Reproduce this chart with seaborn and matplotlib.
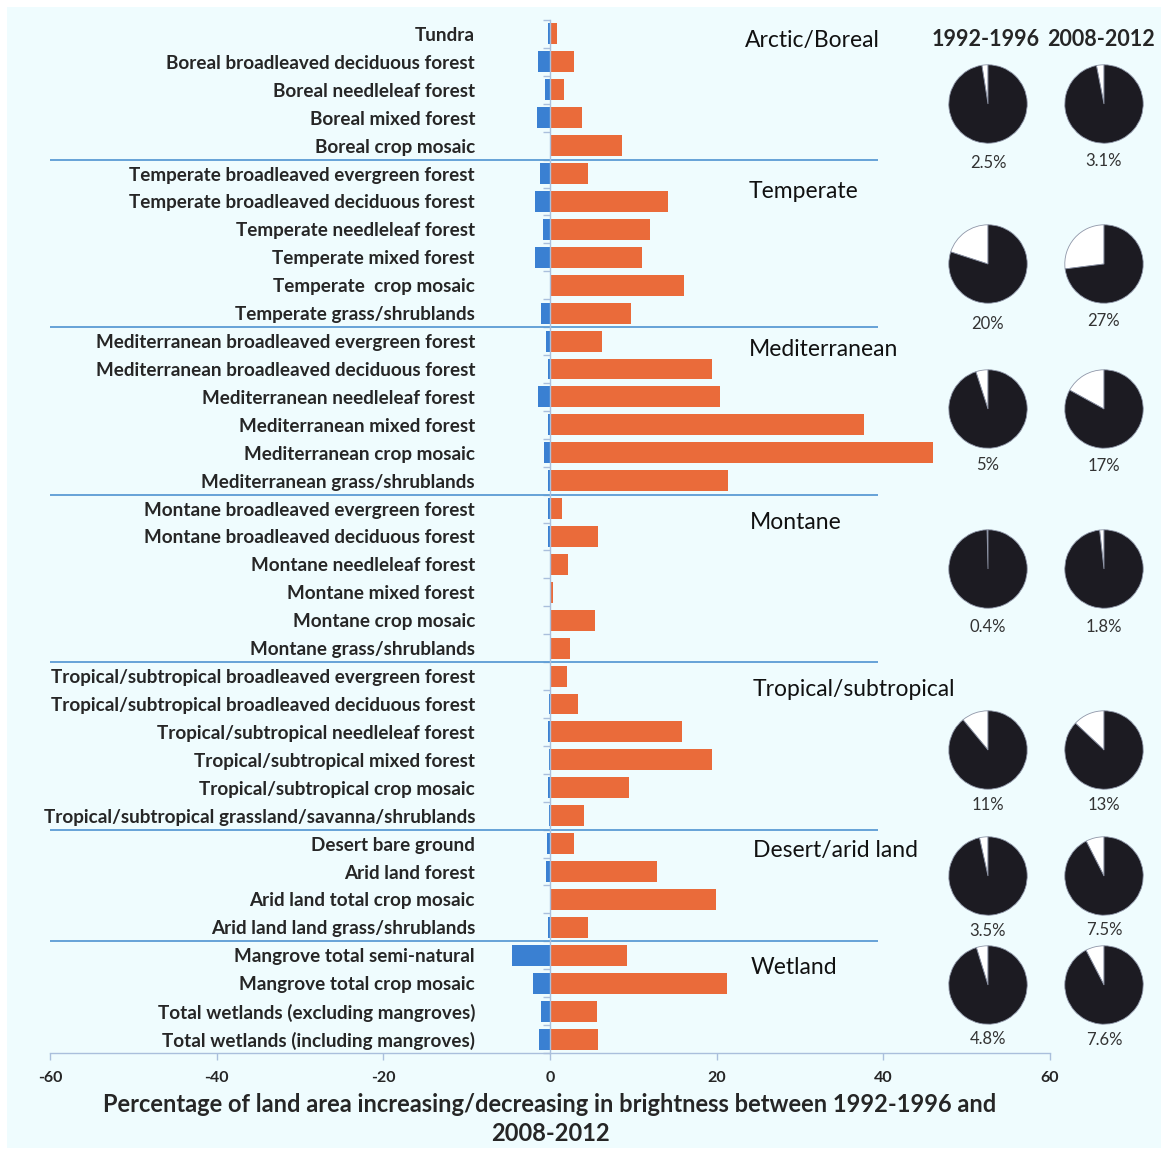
import numpy as np
import pandas as pd
import matplotlib
matplotlib.use("Agg")
import matplotlib.pyplot as plt
import seaborn as sns
from matplotlib.patches import Rectangle

# ---------------- data ----------------
categories = [
    "Tundra", "Boreal broadleaved deciduous forest", "Boreal needleleaf forest",
    "Boreal mixed forest", "Boreal crop mosaic",
    "Temperate broadleaved evergreen forest", "Temperate broadleaved deciduous forest",
    "Temperate needleleaf forest", "Temperate mixed forest", "Temperate  crop mosaic",
    "Temperate grass/shrublands",
    "Mediterranean broadleaved evergreen forest", "Mediterranean broadleaved deciduous forest",
    "Mediterranean needleleaf forest", "Mediterranean mixed forest",
    "Mediterranean crop mosaic", "Mediterranean grass/shrublands",
    "Montane broadleaved evergreen forest", "Montane broadleaved deciduous forest",
    "Montane needleleaf forest", "Montane mixed forest", "Montane crop mosaic",
    "Montane grass/shrublands",
    "Tropical/subtropical broadleaved evergreen forest",
    "Tropical/subtropical broadleaved deciduous forest",
    "Tropical/subtropical needleleaf forest", "Tropical/subtropical mixed forest",
    "Tropical/subtropical crop mosaic",
    "Tropical/subtropical grassland/savanna/shrublands",
    "Desert bare ground", "Arid land forest", "Arid land total crop mosaic",
    "Arid land land grass/shrublands",
    "Mangrove total semi-natural", "Mangrove total crop mosaic",
    "Total wetlands (excluding mangroves)", "Total wetlands (including mangroves)",
]
decrease = [-0.2, -1.5, -0.55, -1.6, 0.0,
            -1.15, -1.75, -0.9, -1.75, 0.0, -1.05,
            -0.45, -0.3, -1.4, -0.3, -0.7, -0.3,
            -0.3, -0.3, 0.0, 0.0, 0.0, 0.0,
            0.0, -0.15, -0.25, -0.15, -0.3, -0.1,
            -0.4, -0.45, 0.0, -0.25,
            -4.6, -2.1, -1.1, -1.3]
increase = [0.8, 2.9, 1.7, 3.8, 8.6,
            4.6, 14.2, 12.0, 11.0, 16.1, 9.7,
            6.2, 19.4, 20.4, 37.7, 45.9, 21.4,
            1.4, 5.8, 2.2, 0.35, 5.4, 2.4,
            2.0, 3.4, 15.8, 19.4, 9.5, 4.1,
            2.9, 12.8, 19.95, 4.6,
            9.2, 21.2, 5.6, 5.8]

groups = ["Arctic/Boreal", "Temperate", "Mediterranean", "Montane",
          "Tropical/subtropical", "Desert/arid land", "Wetland"]
group_sizes = [5, 6, 6, 6, 6, 4, 4]
pie_1992 = [2.5, 20, 5, 0.4, 11, 3.5, 4.8]
pie_2008 = [3.1, 27, 17, 1.8, 13, 7.5, 7.6]
pie_labels_1992 = ["2.5%", "20%", "5%", "0.4%", "11%", "3.5%", "4.8%"]
pie_labels_2008 = ["3.1%", "27%", "17%", "1.8%", "13%", "7.5%", "7.6%"]
period_labels = ["1992-1996", "2008-2012"]

# ---------------- layout (pixels) ----------------
W, H = 1161, 1150
BLUE = "#3a80d2"
ORANGE = "#ea6b3a"
LINE = "#5b9bd5"
AXC = "#aabfdc"
BG = "#effcfe"

sns.set_theme(style="white")
plt.rcParams["font.family"] = ["Lato", "DejaVu Sans"]

fig = plt.figure(figsize=(W / 100, H / 100), dpi=100, facecolor="white")
fig.patches.append(Rectangle((7 / W, 2 / H), 1 - 7 / W, 1 - 9 / H,
                             transform=fig.transFigure, facecolor=BG,
                             edgecolor="none", zorder=-10))

def fx(px):
    return px / W

def fy(py):
    return 1 - py / H

ax = fig.add_axes([fx(50), fy(1053), 1000 / W, (1053 - 20) / H])
ax.set_facecolor("none")

df = pd.DataFrame({"category": categories, "decrease": decrease, "increase": increase})
sns.barplot(data=df, y="category", x="decrease", order=categories, orient="h",
            color=BLUE, saturation=1, width=0.75, linewidth=0, ax=ax)
sns.barplot(data=df, y="category", x="increase", order=categories, orient="h",
            color=ORANGE, saturation=1, width=0.75, linewidth=0, ax=ax)

n = len(categories)
ax.set_xlim(-60, 60)
ax.set_ylim(n - 0.5, -0.5)

# separators between groups
bounds = np.cumsum(group_sizes)[:-1] - 0.5
ax.hlines(bounds, -60, 39.3, color=LINE, lw=1.3, zorder=3)

# spines
for s in ["top", "right"]:
    ax.spines[s].set_visible(False)
ax.spines["left"].set_position(("data", 0))
ax.spines["left"].set_color(AXC)
ax.spines["left"].set_linewidth(1.0)
ax.spines["left"].set_zorder(4)
ax.spines["bottom"].set_color(AXC)
ax.spines["bottom"].set_linewidth(1.0)

ax.set_xticks(np.arange(-60, 61, 20))
ax.set_xticklabels([str(v) for v in range(-60, 61, 20)], fontweight="bold", fontsize=11.5)
ax.tick_params(axis="x", direction="out", length=5, width=1, color=AXC, pad=8, bottom=True)

ax.set_yticks(range(n))
ax.set_yticklabels(categories, fontweight="bold", fontsize=13.6)
ax.tick_params(axis="y", which="major", length=0, pad=54)
ax.set_yticks(np.arange(-0.5, n, 1), minor=True)
ax.tick_params(axis="y", which="minor", direction="out", length=5, width=1, color=AXC, left=True)

ax.set_ylabel("")
ax.set_xlabel("Percentage of land area increasing/decreasing in brightness between 1992-1996 and\n2008-2012",
              fontweight="bold", fontsize=17, labelpad=6, linespacing=1.3)

# group labels
group_text_pos = [(745, 40), (749, 192), (749, 350), (750, 523), (753, 689), (753, 851), (751, 968)]
for g, (px, py) in zip(groups, group_text_pos):
    fig.text(fx(px), fy(py), g, ha="left", va="center", fontsize=16.5, color="#111111")

# pies
fig.text(fx(986), fy(40), period_labels[0], ha="center", va="center", fontsize=15.5, fontweight="bold")
fig.text(fx(1101), fy(40), period_labels[1], ha="center", va="center", fontsize=15.5, fontweight="bold")

pie_cy = [104, 264, 409, 569, 750, 876, 985]
label_y1 = [163, 324, 465, 627, 805, 931, 1039]
label_y2 = [161, 321, 466, 627, 805, 930, 1040]
cxs = [988, 1104]
R = 40
for i in range(len(groups)):
    for j, (vals, labs, ly) in enumerate([(pie_1992, pie_labels_1992, label_y1),
                                          (pie_2008, pie_labels_2008, label_y2)]):
        cx, cy = cxs[j], pie_cy[i]
        pax = fig.add_axes([fx(cx - R), fy(cy + R), 2 * R / W, 2 * R / H])
        pax.pie([vals[i], 100 - vals[i]], colors=["white", "#1c1b22"], startangle=90,
                counterclock=True, radius=0.98,
                wedgeprops=dict(edgecolor="#8f96a8", linewidth=0.6))
        pax.set_xlim(-1, 1)
        pax.set_ylim(-1, 1)
        pax.set_aspect("equal")
        pax.axis("off")
        fig.text(fx(cx), fy(ly[i]), labs[i], ha="center", va="center", fontsize=12, color="#333333")

fig.savefig("out.png", dpi=100, facecolor=fig.get_facecolor())
